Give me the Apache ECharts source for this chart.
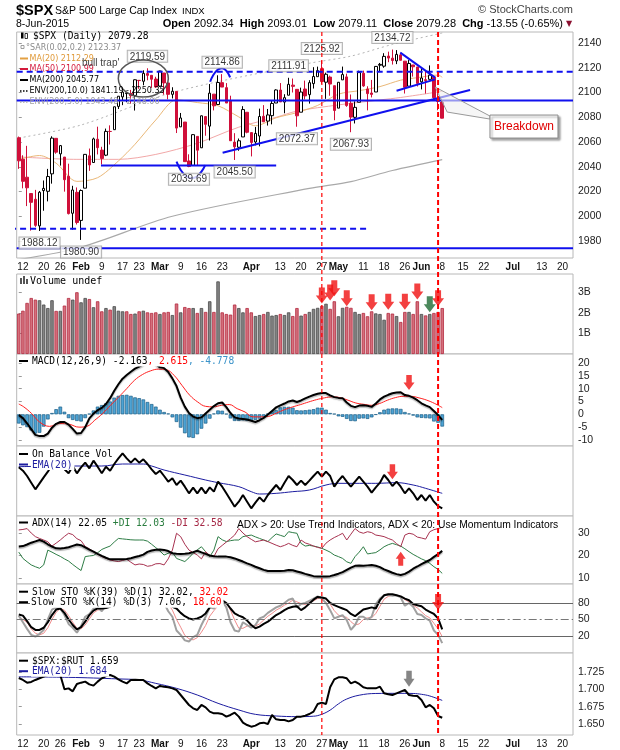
<!DOCTYPE html>
<html><head><meta charset="utf-8">
<script src="https://cdn.jsdelivr.net/npm/echarts@6/dist/echarts.min.js"></script>
<style>html,body{margin:0;padding:0;background:#fff}#c{width:620px;height:750px}</style>
</head><body><div id="c"></div>
<script>
// ---------------- DATA ----------------
const HOLIDAYS = ['2015-01-19','2015-02-16','2015-04-03','2015-05-25','2015-07-03'];
const prevClose = 2062.14;
const opens = [2063.45,2046.13,2031.58,2018.40,2013.75,1992.25,2020.76,2020.19,2034.30,2062.98,
2050.42,2047.86,2032.34,2002.45,2019.35,1996.67,2022.71,2048.86,2043.45,2062.28,
2053.47,2049.38,2068.55,2069.98,2088.78,2096.47,2099.16,2099.25,2097.65,2109.83,
2109.10,2115.30,2113.91,2110.88,2105.23,2115.76,2107.72,2098.54,2100.91,2072.25,
2076.14,2044.69,2041.10,2064.56,2055.35,2080.59,2072.84,2098.69,2090.32,2107.99,
2103.94,2093.10,2059.94,2055.78,2064.11,2084.05,2067.63,2060.03,2064.87,2080.79,
2076.94,2081.29,2091.51,2102.03,2092.28,2097.82,2105.96,2102.58,2084.11,2102.82,
2098.27,2107.21,2112.80,2119.29,2108.35,2112.49,2105.52,2087.38,2110.23,2112.63,
2091.26,2079.96,2092.13,2115.56,2102.87,2099.62,2100.43,2122.07,2121.30,2129.45,
2127.79,2125.55,2130.36,2125.34,2105.13,2122.27,2120.66,2108.64,2110.41,2110.64,
2112.35,2095.09,2092.34];
const highs = [2064.43,2049.30,2056.93,2018.40,2021.35,2020.46,2028.94,2038.29,2064.62,2062.98,
2057.62,2047.86,2042.49,2024.64,2023.32,2021.66,2050.30,2054.74,2063.55,2072.40,
2056.16,2070.86,2073.48,2088.53,2097.03,2101.30,2100.23,2102.13,2110.61,2110.05,
2117.94,2119.59,2113.91,2112.74,2117.52,2115.76,2107.72,2104.25,2100.91,2083.49,
2076.14,2050.08,2066.41,2064.56,2081.41,2080.59,2106.85,2098.69,2113.92,2114.86,
2107.63,2097.43,2067.15,2062.83,2088.97,2084.05,2067.63,2072.17,2086.99,2089.81,
2086.69,2093.31,2102.61,2107.65,2098.62,2111.91,2111.30,2102.58,2103.94,2109.64,
2109.98,2120.49,2120.92,2125.92,2116.04,2113.65,2105.52,2108.41,2120.95,2115.24,
2098.42,2092.90,2117.66,2117.69,2105.06,2110.19,2121.45,2123.89,2131.78,2133.02,
2134.72,2134.28,2132.15,2125.34,2126.22,2122.27,2120.66,2119.15,2117.59,2121.92,
2112.89,2100.99,2093.01];
const lows = [2038.33,2022.58,2008.25,1988.44,1991.47,1988.12,2004.49,2012.04,2026.38,2050.54,
2040.97,2019.91,2001.49,1989.18,1993.38,1980.90,2022.71,2036.72,2043.45,2049.97,
2041.88,2048.62,2057.99,2069.98,2086.70,2089.80,2092.15,2090.79,2085.44,2103.00,
2105.87,2109.89,2103.76,2103.75,2104.50,2098.26,2094.49,2095.22,2067.27,2072.21,
2044.16,2039.69,2041.10,2041.17,2055.35,2065.08,2061.23,2085.56,2090.32,2104.42,
2091.50,2061.05,2045.50,2052.96,2064.11,2067.04,2048.38,2057.32,2056.52,2076.10,
2073.30,2074.29,2091.51,2092.33,2083.24,2097.82,2100.02,2072.37,2084.11,2094.38,
2091.05,2103.19,2112.80,2107.04,2094.89,2097.41,2077.59,2087.38,2110.23,2088.46,
2067.93,2074.99,2092.13,2104.58,2085.57,2096.04,2100.43,2116.81,2120.01,2124.50,
2122.59,2122.95,2126.06,2099.18,2105.13,2112.86,2104.89,2102.54,2099.14,2110.64,
2093.23,2085.67,2079.11];
const closes = [2044.81,2028.26,2023.03,2011.27,1992.67,2019.42,2022.55,2032.12,2063.15,2051.82,
2057.09,2029.55,2002.16,2021.25,1994.99,2020.85,2050.03,2041.51,2062.52,2055.47,
2046.74,2068.59,2068.53,2088.48,2096.99,2100.34,2099.68,2097.45,2110.30,2109.66,
2115.48,2113.86,2110.74,2104.50,2117.39,2107.78,2098.53,2101.04,2071.26,2079.43,
2044.16,2040.24,2065.95,2053.40,2081.19,2074.28,2099.50,2089.27,2108.10,2104.42,
2091.50,2061.05,2056.15,2061.02,2086.24,2067.89,2059.69,2066.96,2080.62,2076.33,
2081.90,2091.18,2102.06,2092.43,2095.84,2106.63,2104.99,2081.18,2100.40,2097.29,
2107.96,2112.93,2117.69,2108.92,2114.76,2106.85,2085.51,2108.29,2114.49,2089.46,
2080.15,2088.00,2116.10,2105.33,2099.12,2098.48,2121.10,2122.73,2129.20,2127.83,
2125.85,2130.82,2126.06,2104.20,2123.48,2120.79,2107.39,2111.73,2109.60,2114.07,
2095.84,2092.83,2079.28];
// volume in billions
const volumes = [1.97,2.11,2.49,2.73,2.65,2.62,2.41,2.24,2.62,2.10,
2.10,2.36,2.73,2.65,3.01,2.52,2.73,2.68,2.28,2.57,
2.08,2.24,2.16,2.33,2.11,2.08,2.08,1.95,1.97,2.08,
2.11,2.03,2.00,2.03,1.95,2.03,2.05,1.90,2.46,2.03,
2.29,2.24,2.24,2.00,2.24,2.05,2.57,2.05,3.54,2.03,
1.95,1.92,2.41,2.24,2.03,2.24,2.03,1.85,1.90,1.95,
2.05,1.87,1.90,1.95,1.90,2.03,1.85,2.24,1.87,1.95,
2.05,2.20,2.25,2.35,2.45,2.20,2.57,1.84,2.25,2.30,
2.25,2.05,1.95,2.00,1.84,2.08,1.98,1.95,1.67,2.00,
1.97,1.85,1.56,2.05,2.05,1.95,2.57,1.95,1.88,1.95,
2.00,2.05,2.24];
// moving averages read at selected days [dayIndex, value]
const ma20Pts = [[0,2046.0],[5,2049.1],[9,2042.9],[14,2028.2],[19,2031.2],[24,2044.7],[28,2058.2],[33,2077.8],[38,2094.1],[43,2091.9],[48,2089.3],[53,2080.3],[57,2073.1],[62,2079.6],[67,2083.8],[72,2089.6],[77,2098.7],[82,2101.5],[87,2104.8],[92,2110.0],[96,2112.0],[101,2114.1],[102,2112.3]];
const ma50Pts = [[0,2048],[14,2046],[24,2046],[33,2050],[43,2059],[53,2072],[62,2080],[67,2085],[77,2090],[87,2094],[92,2096],[102,2101]];
const ma200Pts = [[0,1965],[15,1975],[37,2000],[70,2022.5],[80,2028],[90,2037],[102,2045.8]];
const envPct = 5.0;
// MACD
const macdLine = [-0.3,-1.5,-3.5,-5.8,-8.0,-8.5,-8.5,-7.5,-5.2,-3.7,
-3.0,-3.0,-4.0,-5.7,-7.5,-7.3,-5.0,-1.6,0.3,1.6,
2.5,4.0,6.3,9.2,11.7,13.9,15.3,16.6,17.8,18.6,
19.5,20.5,21.0,19.5,18.3,18.0,16.5,14.0,11.0,6.5,
3.0,0.5,-0.9,-1.5,-1.2,0.3,1.8,3.2,4.3,4.6,
2.8,0.5,-1.2,-1.6,-1.8,-2.0,-2.5,-3.0,-2.3,-1.4,
-0.1,1.3,2.7,3.5,4.2,5.0,5.4,4.8,5.4,6.2,
6.9,7.5,8.0,8.3,8.3,7.4,6.7,6.4,6.3,4.6,
3.3,2.8,3.4,3.5,3.3,2.9,4.2,5.8,6.9,7.6,
8.2,8.5,8.6,7.5,7.2,6.5,5.5,4.3,3.5,2.8,
1.3,-0.3,-2.163];
const macdSignalPts = [[0,4.0],[1.2,2.9],[3.1,0.3],[5,-3],[7.4,-4.7],[9.8,-3.6],[12.2,-3.9],[14.5,-5],[16.4,-4.7],[18.3,-2.3],[20.2,0.3],[22.1,3.5],[24.1,6.8],[26,10],[27.9,13.3],[29.8,15.5],[31.7,16.9],[33.6,17.6],[35.5,17.4],[37.4,15.2],[39.3,11.3],[41.2,7.4],[43.1,4.8],[45,3.1],[46.9,2.9],[48.8,3.5],[50.7,3.8],[52.6,2.2],[54.5,0.9],[56.4,-1],[58.3,-1],[60.2,-0.8],[62.1,0.5],[64,1.8],[66,2.9],[67.9,3.8],[69.8,4.8],[71.7,5.7],[73.6,6.4],[75.5,6.8],[77.4,6.5],[79.3,5.5],[81.2,4.4],[83.1,3.9],[85,3.5],[86.9,4.2],[88.8,5.5],[90.7,6.5],[92.6,7],[94.5,7],[96.4,6.4],[98.3,5.5],[100.2,4.2],[102,2.615]];
const macdHist = [-3.6,-4.3,-5.0,-6.3,-7.5,-7.2,-4.8,-2.0,0.5,2.0,
3.0,1.0,-1.5,-2.2,-2.6,-2.8,-1.5,0.2,1.5,3.0,
3.6,4.3,5.0,6.5,7.2,7.5,7.6,7.2,6.6,6.3,
5.8,4.8,4.0,3.0,1.8,0.9,0.3,-1.2,-3.0,-5.2,
-7.4,-9.0,-9.2,-7.8,-5.6,-3.6,-1.7,0.3,1.5,1.4,
0.2,-1.6,-2.6,-2.6,-2.4,-2.6,-2.5,-2.2,-1.7,-1.0,
0.3,1.2,1.6,2.7,2.9,2.9,2.6,1.6,1.5,1.6,
1.8,2.0,2.6,2.6,1.8,0.5,0.2,-0.8,-1.0,-1.8,
-2.6,-2.7,-1.7,-1.6,-1.8,-1.2,-0.2,0.8,1.8,2.2,
2.3,2.3,2.1,0.9,0.3,-0.5,-1.2,-1.4,-1.5,-1.6,
-2.8,-3.3,-4.778];
// On Balance Volume (relative units)
const obv = [168,158,142,122,102,120,138,155,175,162,
175,162,150,172,150,168,182,165,188,170,
150,170,158,178,195,210,195,182,195,182,
192,178,162,148,158,142,125,135,115,128,
110,90,107,90,107,90,108,95,125,110,
90,70,50,65,85,65,45,62,78,65,
85,100,115,100,122,142,130,115,128,115,
128,142,155,140,155,142,110,128,142,125,
110,125,140,125,110,92,108,122,145,130,
112,125,110,90,105,90,70,85,68,85,
65,52,45];
const obvEmaPts = [[0,170],[13,172],[20,172],[25,178],[30,178],[32,172],[35,160],[40,145],[45,130],[48,122],[53,110],[56,95],[58,88],[62,90],[66,95],[70,100],[74,115],[77,120],[82,120],[86,120],[91,122],[95,115],[98,105],[102,90]];
// ADX(14)
const adx = [24.0,24.2,24.9,25.7,26.3,26.9,26.2,25.0,24.0,23.2,
23.1,23.3,23.7,24.3,24.9,24.6,23.6,22.6,21.7,20.7,
19.8,19.0,18.3,18.3,18.3,18.3,18.4,18.8,19.3,19.8,
20.4,21.6,22.2,22.6,22.7,22.5,22.0,21.0,20.8,20.7,
20.8,21.0,21.5,22.1,21.4,20.7,20.0,19.7,19.5,19.5,
19.5,19.2,18.7,18.0,17.3,16.5,15.8,15.0,14.3,13.6,
13.1,13.1,13.1,13.1,13.2,13.5,13.4,12.9,12.4,11.8,
11.3,10.8,10.6,10.6,10.6,10.8,11.3,11.9,12.6,13.6,
14.6,15.4,15.5,15.4,15.6,15.8,15.4,14.8,13.8,13.1,
12.3,11.7,11.3,11.8,12.8,14.1,15.1,16.2,17.1,18.0,
19.4,20.6,22.05];
const plusDI = [21.5,18.7,17.2,15.8,15.0,14.3,15.8,22.4,21.5,20.5,
19.6,18.5,17.5,16.0,14.6,13.3,19.5,19.8,20.0,21.2,
22.7,23.5,24.2,26.0,27.6,27.4,27.2,27.0,26.9,26.9,
26.9,26.4,25.0,23.5,22.0,20.2,21.0,21.5,18.7,18.0,
17.3,19.0,21.0,22.5,23.9,21.7,19.5,22.4,28.4,27.0,
26.2,26.6,26.9,26.9,28.4,28.8,29.1,28.3,27.6,26.9,
26.2,28.0,29.6,29.0,28.4,30.6,30.2,29.9,25.4,24.2,
24.5,24.2,23.8,23.2,22.4,21.5,20.2,19.5,18.7,17.2,
16.5,19.5,21.5,23.9,20.7,21.0,21.3,22.5,23.9,24.8,
25.4,24.8,24.2,23.0,21.7,20.5,19.5,18.5,17.7,16.5,
15.0,13.8,12.03];
const minusDI = [31.4,31.6,32.0,30.0,28.4,27.6,26.9,26.1,24.2,25.5,
26.9,28.5,29.9,29.3,27.5,26.6,24.0,23.0,21.7,20.6,
19.5,18.8,18.0,17.6,17.3,17.8,18.3,17.0,15.8,16.2,
16.0,15.2,15.5,16.3,16.4,15.8,18.5,22.4,29.9,28.4,
25.0,22.4,21.3,20.2,18.5,21.7,20.0,19.5,23.0,24.5,
26.0,27.5,29.1,32.0,30.0,28.4,27.2,26.1,26.5,26.9,
26.2,25.4,24.6,23.9,24.5,25.4,24.5,23.9,26.9,25.6,
25.0,24.2,23.6,23.2,25.5,26.9,28.0,28.9,29.9,26.9,
29.5,32.0,30.5,29.9,30.6,30.2,29.1,28.8,28.4,27.6,
26.9,25.3,23.9,29.1,29.9,29.5,28.2,27.8,27.3,30.6,
31.5,32.0,32.58];
// Slow Stochastics
const stoK39 = [59,57,47,36,31,31,35,45,58,68,
70,62,50,40,32,36,46,58,66,70,
70,71,73,80,88,93,95,95,96,97,
97,96,95,93,92,88,80,73,70,62,
56,52,50,52,55,61,72,78,84,85,
80,70,61,57,54,48,40,34,37,42,
46,52,58,62,67,71,73,74,67,72,
79,86,91,90,88,80,76,73,70,67,
60,56,62,68,70,72,70,85,94,96,
96,94,92,88,85,78,76,74,68,64,
60,52,32.02];
const stoK14 = [57,45,33,22,19,24,31,50,68,72,
70,58,42,35,26,38,55,60,70,72,
65,75,78,88,95,96,94,90,95,94,
96,95,90,85,90,80,65,55,30,22,
12,10,18,22,40,55,72,70,84,84,
72,45,30,28,45,40,35,40,52,55,
62,67,72,75,80,86,88,72,78,80,
84,88,92,88,80,67,52,55,58,49,
31,40,55,55,50,55,78,88,94,95,
93,94,90,75,80,73,60,58,52,48,
30,22,7.06];
const stoD3 = [55,50,45,33,25,22,25,35,50,63,
70,67,57,45,34,33,40,51,62,67,
69,71,73,80,87,93,95,93,93,93,
95,95,94,90,88,85,78,67,50,36,
21,15,13,17,27,39,56,66,75,79,
80,67,49,34,34,38,40,38,42,49,
56,61,67,71,76,80,85,82,79,77,
81,84,88,89,87,78,66,58,55,54,
46,40,42,50,53,53,61,74,87,92,
94,94,92,86,82,76,71,64,57,53,
43,33,18.60];
// $SPX:$RUT ratio
const ratio = [1.7163,1.7135,1.7096,1.7106,1.7135,1.7159,1.7183,1.7207,1.7221,1.7212,
1.7207,1.7000,1.7014,1.6971,1.7077,1.7096,1.7111,1.7072,1.7053,1.7111,
1.7159,1.7192,1.7207,1.7183,1.7144,1.7111,1.7086,1.7135,1.7139,1.7135,
1.7135,1.7086,1.7048,1.7014,1.7048,1.7038,1.7029,1.7014,1.6990,1.6918,
1.6846,1.6774,1.6726,1.6702,1.6774,1.6740,1.6678,1.6654,1.6654,1.6644,
1.6606,1.6630,1.6663,1.6606,1.6519,1.6485,1.6461,1.6476,1.6509,1.6519,
1.6500,1.6630,1.6567,1.6557,1.6557,1.6538,1.6557,1.6606,1.6606,1.6620,
1.6644,1.6678,1.6788,1.6808,1.6788,1.7029,1.7144,1.7173,1.7173,1.7159,
1.7086,1.7111,1.7077,1.7029,1.7014,1.7014,1.7014,1.7038,1.6942,1.6928,
1.6918,1.6942,1.6966,1.6990,1.6918,1.6908,1.6904,1.6846,1.6740,1.6774,
1.6726,1.6615,1.6590];
const ratioEmaPts = [[0,1.7180],[12,1.7173],[24,1.7150],[29,1.7135],[33,1.7086],[38,1.7014],[43,1.6918],[48,1.6798],[53,1.6702],[57,1.6639],[62,1.6615],[67,1.6606],[71,1.6612],[73,1.6640],[75,1.6700],[77,1.6790],[79,1.6860],[82,1.6915],[86,1.6940],[91,1.6942],[95,1.6940],[97,1.6928],[99,1.6904],[102,1.6840]];
// tick labels
const xTickLabels = [['2015-01-12','12'],['2015-01-20','20'],['2015-01-26','26'],['2015-02-02','Feb'],['2015-02-09','9'],['2015-02-17','17'],['2015-02-23','23'],['2015-03-02','Mar'],['2015-03-09','9'],['2015-03-16','16'],['2015-03-23','23'],['2015-04-01','Apr'],['2015-04-13','13'],['2015-04-20','20'],['2015-04-27','27'],['2015-05-01','May'],['2015-05-11','11'],['2015-05-18','18'],['2015-05-26','26'],['2015-06-01','Jun'],['2015-06-08','8'],['2015-06-15','15'],['2015-06-22','22'],['2015-07-01','Jul'],['2015-07-13','13'],['2015-07-20','20']];
const priceTicks = [1980,2000,2020,2040,2060,2080,2100,2120,2140];
const volTicks = [1,2,3];
const macdTicks = [-10,-5,0,5,10,15,20];
const adxTicks = [10,20,30];
const stoTicks = [20,50,80];
const ratioTicks = [1.650,1.675,1.700,1.725];
// annotations (day index, price)
const hiLabels = [[31,2119.59],[49,2114.86],[65,2111.91],[73,2125.92],[90,2134.72]];
const loLabels = [[5,1988.12],[15,1980.90],[41,2039.69],[52,2045.50],[67,2072.37],[80,2067.93]];
const trendLine = [[49.1,2051.4],[108.7,2102.0]];
const triUpper = [[91.9,2132.2],[100.3,2112.0]];
const triLower = [[91.0,2101.5],[100.3,2110.6]];
const arcLow = [[38.0,2044.1],[41.7,2030.7],[44.9,2041.4]];
const arcHigh = [[46.1,2108.7],[48.9,2119.6],[50.9,2112.3]];
const resistDash = [[-0.5,2116.8],[133.5,2116.8]];
const supportSolid = [[-0.5,2093.5],[133.5,2093.5]];
const marchSupport = [[19.8,2041.0],[62.0,2041.0]];
const lowDash = [[-4.5,1990.0],[83.9,1990.0]];
const bottomSolid = [[-0.5,1974.1],[133.5,1974.1]];
const vLines = [73, 101];
const volArrows = [[73,2.85],[75,3.0],[76,3.2],[79,2.72],[85,2.52],[89,2.55],[93,2.55],[96,3.05],[101,2.72]];
const volGreenArrows = [[99,2.42]];
const macdArrows = [[94,12.4]];
const obvArrows = [[90,155]];
const adxUpArrows = [[92,18.6]];
const stoArrows = [[101,81.8]];
const ratioArrows = [[94,1.7154]];

// ---------------- BUILD ----------------
function buildTradingDays(startISO, count, holidays) {
  const out = []; const d = new Date(startISO + 'T00:00:00Z');
  while (out.length < count) {
    const wd = d.getUTCDay(); const iso = d.toISOString().slice(0,10);
    if (wd !== 0 && wd !== 6 && holidays.indexOf(iso) < 0) out.push(iso);
    d.setUTCDate(d.getUTCDate() + 1);
  }
  return out;
}
const dates = buildTradingDays('2015-01-09', 134, HOLIDAYS);
const labelMap = {}; xTickLabels.forEach(([d,t]) => labelMap[d] = t);
const MONTHS = ['Jan','Feb','Mar','Apr','May','Jun','Jul','Aug'];

const FONT_AX = "'Liberation Sans Narrow','Liberation Sans',Arial,sans-serif";
const FONT_X = "'Liberation Sans',Arial,sans-serif";
const FONT_MONO = "'DejaVu Sans Mono',monospace";
const FONT_SANS = "'DejaVu Sans',sans-serif";

const panels = [
  {top:32, height:226}, {top:274, height:80}, {top:354, height:92}, {top:446, height:70},
  {top:516, height:68}, {top:584, height:69}, {top:653, height:82}
];
const yRanges = [[1966.3,2148.9],[0,3.9],[-12.35,23.5],[22,232],[7.3,37.6],[-10.9,114.5],[1.6341,1.7524]];
const yTicks = [priceTicks, volTicks, macdTicks, null, adxTicks, stoTicks, ratioTicks];
const yFmt = [v=>String(v), v=>v+'B', v=>String(v), v=>'', v=>String(v), v=>String(v), v=>v.toFixed(3)];
const LEFT = 16.7, RIGHT = 47;
const NV = dates.length;

const grid = panels.map(p => ({left:LEFT, right:RIGHT, top:p.top, height:p.height, show:true, borderColor:'#b8b8b8', borderWidth:1, backgroundColor:'#fff'}));
const labelInterval = (idx, val) => labelMap[val] !== undefined;
const labelFmt = (val) => { const t = labelMap[val]; if (t === undefined) return ''; return MONTHS.indexOf(t) >= 0 ? '{b|' + t + '}' : t; };
const xAxis = [];
panels.forEach((p,g) => xAxis.push({
  type:'category', gridIndex:g, data:dates, boundaryGap:true,
  axisLine:{show:false}, splitLine:{show:false},
  axisTick:{show:false},
  axisLabel:{show: g===0 || g===6, interval:labelInterval, formatter:labelFmt, fontFamily:FONT_X, fontSize:10, color:'#111', margin:4,
    rich:{b:{fontWeight:'bold', fontFamily:FONT_X, fontSize:10, color:'#111'}}}
}));
panels.forEach((p,g) => xAxis.push({type:'value', gridIndex:g, min:-0.5, max:NV-0.5, show:false}));
const yAxis = panels.map((p,g) => ({
  type:'value', gridIndex:g, position:'right', min:yRanges[g][0], max:yRanges[g][1], scale:true,
  splitLine:{show:false}, axisLine:{show:false},
  axisTick:{show: !!yTicks[g], customValues: yTicks[g] || [], length:3, lineStyle:{color:'#999'}},
  axisLabel:{show: !!yTicks[g], customValues: yTicks[g] || [], formatter: yFmt[g], fontFamily:FONT_AX, fontSize:10.5, color:'#222', margin:5}
}));

const pairs = arr => arr.map((v,i) => [i,v]);
const series = [];
const L = (g, data, color, width, extra) => Object.assign({type:'line', xAxisIndex:7+g, yAxisIndex:g, data, symbol:'none', silent:true,
  lineStyle:{color, width}, z:3, animation:false}, extra||{});

// main overlays
series.push(L(0, ma200Pts.map(([i,v]) => [i, v*(1+envPct/100)]), '#b4b4b4', 1, {smooth:0.3, lineStyle:{color:'#b4b4b4', width:1, type:[2,3]}, z:2}));
series.push(L(0, ma200Pts, '#a9a9a9', 1.2, {smooth:0.3, z:2}));
series.push(L(0, ma50Pts, '#f2a8a8', 1, {smooth:0.3, z:2}));
series.push(L(0, ma20Pts, '#eab878', 1, {smooth:0.3, z:2}));
series.push({type:'candlestick', xAxisIndex:0, yAxisIndex:0, barWidth:3, animation:false,
  data: opens.map((o,i) => [o, closes[i], lows[i], highs[i]]),
  itemStyle:{color:'#ffffff', color0:'#d0103a', borderColor:'#000000', borderColor0:'#d0103a', borderWidth:1}, z:3});
const BLUE = '#1010ee';
[[resistDash,'dashed'],[supportSolid,'solid'],[marchSupport,'solid'],[bottomSolid,'solid'],[trendLine,'solid'],[triUpper,'solid'],[triLower,'solid']].forEach(([d,t]) =>
  series.push(L(0, d, BLUE, 2, {lineStyle:{color:BLUE, width:2, type: t==='dashed' ? [6,4] : 'solid'}, z:5})));
series.push(L(0, lowDash, BLUE, 2, {lineStyle:{color:BLUE, width:2, type:[6,4]}, z:5, clip:false}));
series.push(L(0, arcLow, BLUE, 2, {smooth:0.6, z:5}));
series.push(L(0, arcHigh, BLUE, 2, {smooth:0.6, z:5}));
const boxLabel = (pos) => ({show:true, position:pos, distance:6, formatter: p => p.value[1].toFixed(2), backgroundColor:'#fff', borderColor:'#a0a0a0', borderWidth:1, padding:[1,2,0,2], fontSize:10, fontFamily:FONT_X, color:'#000'});
series.push({type:'scatter', xAxisIndex:7, yAxisIndex:0, data:hiLabels, symbolSize:1, itemStyle:{color:'rgba(0,0,0,0)'}, label:boxLabel('top'), z:6, silent:true, animation:false});
series.push({type:'scatter', xAxisIndex:7, yAxisIndex:0, data:loLabels, symbolSize:1, itemStyle:{color:'rgba(0,0,0,0)'}, label:boxLabel('bottom'), z:6, silent:true, animation:false});

// volume
series.push({type:'bar', xAxisIndex:1, yAxisIndex:1, barWidth:3.4, animation:false, silent:true,
  data: volumes.map((v,i) => { const prev = i===0 ? prevClose : closes[i-1]; const up = closes[i] >= prev;
    return {value:v, itemStyle: up ? {color:'#858585', borderColor:'#4a4a4a', borderWidth:0.8} : {color:'#d4707c', borderColor:'#b52a40', borderWidth:0.8}}; })});
// MACD
series.push({type:'bar', xAxisIndex:2, yAxisIndex:2, barWidth:3.6, animation:false, silent:true, data:macdHist,
  itemStyle:{color:'#4da3d4', borderColor:'#1d5e86', borderWidth:0.7}});
series.push(L(2, macdSignalPts, '#ff2020', 1, {smooth:0.4}));
series.push(L(2, pairs(macdLine), '#000', 2, {lineStyle:{color:'#000', width:2, shadowColor:'rgba(0,0,0,0.25)', shadowOffsetY:1.5, shadowBlur:1}}));
// OBV
series.push(L(3, obvEmaPts, '#1c1ca0', 1, {smooth:0.4}));
series.push(L(3, pairs(obv), '#000', 2));
// ADX
series.push(L(4, pairs(plusDI), '#2e7d46', 1));
series.push(L(4, pairs(minusDI), '#a83250', 1));
series.push(L(4, pairs(adx), '#000', 2, {lineStyle:{color:'#000', width:2, shadowColor:'rgba(0,0,0,0.3)', shadowOffsetY:1.5, shadowBlur:1}}));
// STO
series.push(L(5, pairs(stoD3), '#f08c8c', 1, {markLine:{silent:true, symbol:'none', label:{show:false}, animation:false,
  data:[{yAxis:80, lineStyle:{type:'solid', color:'#666', width:1}}, {yAxis:20, lineStyle:{type:'solid', color:'#666', width:1}}, {yAxis:50, lineStyle:{type:[8,3,2,3], color:'#777', width:1}}]}}));
series.push(L(5, pairs(stoK14), '#a0a0a0', 2));
series.push(L(5, pairs(stoK39), '#000', 2));
// Ratio
series.push(L(6, ratioEmaPts, '#1c1ca0', 1, {smooth:0.4}));
series.push(L(6, pairs(ratio), '#000', 2));
// arrows
const DOWN = 'path://M3,0 L9,0 L9,8 L12,8 L6,16 L0,8 L3,8 Z';
const UP = 'path://M6,0 L12,8 L9,8 L9,16 L3,16 L3,8 L0,8 Z';
const arrow = (g, data, sym, color, size) => ({type:'scatter', xAxisIndex:7+g, yAxisIndex:g, data, symbol:sym, symbolSize:size, itemStyle:{color}, z:10, silent:true, animation:false});
series.push(arrow(1, volArrows, DOWN, '#f01010', [12,16]));
series.push(arrow(1, volGreenArrows, DOWN, '#1f6b35', [12,16]));
series.push(arrow(2, macdArrows, DOWN, '#f01010', [11,15]));
series.push(arrow(3, obvArrows, DOWN, '#f01010', [11,15]));
series.push(arrow(4, adxUpArrows, UP, '#f01010', [10,14]));
series.push(arrow(5, stoArrows, DOWN, '#f01010', [12,16]));
series.push(arrow(6, ratioArrows, DOWN, '#666666', [11,16]));

const chart = echarts.init(document.getElementById('c'), null, {width:620, height:750});
chart.setOption({animation:false, backgroundColor:'#fff', grid, xAxis, yAxis, series});

// ---------------- GRAPHICS (anchored through the axes) ----------------
const P = (g, x, y) => chart.convertToPixel({xAxisIndex:7+g, yAxisIndex:g}, [x, y]);
const G = [];
const txt = (x, y, text, o) => G.push(Object.assign({type:'text', x, y, z:60, silent:true, style:Object.assign({text, fill:'#000', font:'10px ' + FONT_X, verticalAlign:'middle', align:'left'}, (o||{}).style||{})}, (o||{}).el||{}));
const ln = (x1,y1,x2,y2,stroke,w,dash,z) => G.push({type:'line', z:z||61, silent:true, shape:{x1,y1,x2,y2}, style:{stroke, lineWidth:w, lineDash:dash||null}});

// header
txt(16, 11, '$SPX', {style:{font:'bold 14.5px ' + FONT_X}});
txt(55, 11.5, 'S&P 500 Large Cap Index', {style:{font:'10.5px ' + FONT_X}});
txt(182, 11.5, 'INDX', {style:{font:'9.5px ' + FONT_X}});
txt(573, 10, '© StockCharts.com', {style:{font:'11px ' + FONT_X, fill:'#444', align:'right'}});
txt(16, 24, '8-Jun-2015', {style:{font:'10.5px ' + FONT_X}});
txt(563, 24, '{b|Open} 2092.34  {b|High} 2093.01  {b|Low} 2079.11  {b|Close} 2079.28  {b|Chg} -13.55 (-0.65%)',
  {style:{font:'11px ' + FONT_X, align:'right', rich:{b:{font:'bold 11px ' + FONT_X, fill:'#000'}}}});
txt(569, 24, '▼', {style:{font:'8px ' + FONT_SANS, fill:'#8b1030', align:'center'}});

// main legend
G.push({type:'rect', z:60, silent:true, shape:{x:21, y:32.5, width:2.5, height:6}, style:{fill:'#000'}});
G.push({type:'rect', z:60, silent:true, shape:{x:25, y:33.5, width:2.5, height:5}, style:{fill:'#fff', stroke:'#000', lineWidth:0.8}});
txt(33, 36, '$SPX (Daily) 2079.28', {style:{font:'9.6px ' + FONT_MONO}});
G.push({type:'rect', z:60, silent:true, shape:{x:21, y:45.5, width:3, height:3}, style:{fill:'none', stroke:'#888', lineWidth:0.8}});
txt(26, 47.5, '°SAR(0.02,0.2) 2123.37', {style:{font:'8px ' + FONT_SANS, fill:'#8a8a8a'}});
ln(20,58.5,28,58.5,'#e3a042',2); txt(29.5, 58.5, 'MA(20) 2112.29', {style:{font:'8px ' + FONT_SANS, fill:'#e09a3a'}});
ln(20,69,28,69,'#d41a3c',2); txt(29.5, 69, 'MA(50) 2100.99', {style:{font:'8px ' + FONT_SANS, fill:'#d41a3c'}});
ln(20,80,28,80,'#000',2); txt(29.5, 80, 'MA(200) 2045.77', {style:{font:'8px ' + FONT_SANS}});
ln(20,91,28,91,'#000',1.5,[1.5,1.5]); txt(29.5, 91, 'ENV(200,10.0) 1841.19 - 2250.35', {style:{font:'8px ' + FONT_SANS}});
ln(20,102,28,102,'#aaa',1.5,[1.5,1.5]); txt(29.5, 102, 'ENV(200,5.0) 1943.48 - 2148.06', {style:{font:'8px ' + FONT_SANS, fill:'#a0a0a0'}});
const bt = P(0, 15.2, 2123.8);
txt(bt[0], bt[1], "bull trap'", {style:{font:'10px ' + FONT_X, fill:'#444'}});
const ec = P(0, 30.0, 2111.3);
G.push({type:'ellipse', z:55, silent:true, shape:{cx:ec[0], cy:ec[1], rx:25, ry:18.5}, style:{fill:'none', stroke:'#555', lineWidth:1.5}});

// breakdown callout
const a1 = P(0, 100.3, 2104.4), a2 = P(0, 103.2, 2084.2), bx = P(0, 113.5, 2081.8);
G.push({type:'polygon', z:56, silent:true, shape:{points:[a1, [bx[0], bx[1]+1], [bx[0], bx[1]+4], a2]}, style:{fill:'rgba(240,240,240,0.6)', stroke:'#999', lineWidth:1}});
G.push({type:'rect', z:57, silent:true, shape:{x:bx[0], y:bx[1], width:68, height:23}, style:{fill:'#fff', stroke:'#8a8a8a', lineWidth:1, shadowBlur:2, shadowOffsetX:2, shadowOffsetY:2, shadowColor:'rgba(0,0,0,0.35)'}});
txt(bx[0]+34, bx[1]+12, 'Breakdown', {style:{font:'12px ' + FONT_X, fill:'#e00000', align:'center'}});

// panel legends (white background)
const leg = (y, text, rich, markColor, x) => {
  ln(19, y, 28, y, markColor || '#000', 2, null, 62);
  G.push({type:'text', x: x || 31, y, z:61, silent:true, style:{text, font:'9.6px ' + FONT_MONO, fill:'#000', verticalAlign:'middle', backgroundColor:'#fff', padding:[1,2,0,1], rich: rich || {}}});
};
G.push({type:'rect', z:60, silent:true, shape:{x:20, y:278, width:2, height:6}, style:{fill:'#555'}});
G.push({type:'rect', z:60, silent:true, shape:{x:23, y:276, width:2, height:8}, style:{fill:'#555'}});
G.push({type:'rect', z:60, silent:true, shape:{x:26, y:279, width:2, height:5}, style:{fill:'#555'}});
txt(30, 281.5, 'Volume undef', {style:{font:'10px ' + FONT_MONO}});
const monoRich = c => ({font:'9.6px ' + FONT_MONO, fill:c});
leg(361, 'MACD(12,26,9) -2.163{r|, 2.615}{c|, -4.778}', {r:monoRich('#ff0000'), c:monoRich('#3b93c9')});
leg(454, 'On Balance Vol');
leg(464.5, '{n|EMA(20)}', {n:monoRich('#1c1ca0')}, '#1c1ca0');
leg(522.5, 'ADX(14) 22.05 {g|+DI 12.03} {r|-DI 32.58}', {g:monoRich('#2a7d3f'), r:monoRich('#a52845')});
txt(237, 525.5, 'ADX > 20: Use Trend Indicators, ADX < 20: Use Momentum Indicators', {style:{font:'10.3px ' + FONT_X}});
leg(591.7, 'Slow STO %K(39) %D(1) 32.02, {r|32.02}', {r:monoRich('#ff0000')});
leg(602.2, 'Slow STO %K(14) %D(3) 7.06, {r|18.60}', {r:monoRich('#ff0000')}, '#000', 30);
leg(660.7, '$SPX:$RUT 1.659');
leg(671.2, '{n|EMA(20) 1.684}', {n:monoRich('#1c1ca0')}, '#1c1ca0');

// red dashed vertical lines through every panel
vLines.forEach((d, k) => {
  const x = P(0, d, 2000)[0];
  ln(x, 32, x, 735, '#ff0000', k === 0 ? 1.2 : 2, k === 0 ? [4,3] : [5,3], 90);
});
chart.setOption({graphic: G});
</script></body></html>
